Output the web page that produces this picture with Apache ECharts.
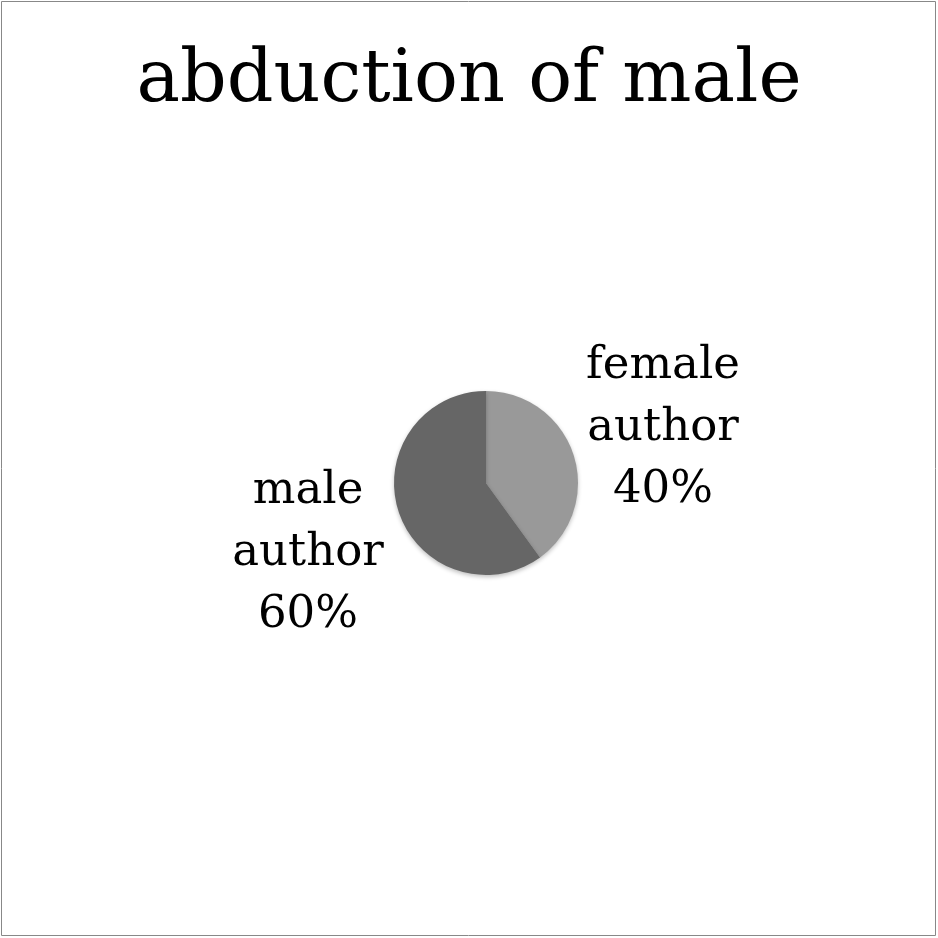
<!DOCTYPE html>
<html><head><meta charset="utf-8">
<script src="https://cdn.jsdelivr.net/npm/echarts@6/dist/echarts.min.js"></script>
<style>html,body{margin:0;padding:0;background:#fff}#c{width:938px;height:938px}</style>
</head><body><div id="c"></div>
<script>
var titleText = 'abduction of male';
var categories = ['female author', 'male author'];
var values = [40, 60];
var colors = ['#999999', '#666666'];
var labelPos = [[663, 428], [308, 553]];

var chart = echarts.init(document.getElementById('c'), null, {renderer: 'canvas'});
chart.setOption({
  animation: false,
  backgroundColor: '#ffffff',
  title: {
    text: titleText, left: 'center', top: 41,
    textStyle: {fontFamily: 'DejaVu Serif', fontSize: 73, fontWeight: 'normal', color: '#000'}
  },
  graphic: [{
    type: 'rect', shape: {x: 1.5, y: 1.5, width: 934, height: 934},
    style: {fill: 'none', stroke: '#888888', lineWidth: 1}, silent: true
  }],
  series: [{
    type: 'pie',
    center: [486, 483],
    radius: [0, 92],
    startAngle: 90,
    clockwise: true,
    data: categories.map(function (c, i) {
      return {name: c, value: values[i], itemStyle: {color: colors[i]}};
    }),
    itemStyle: {shadowBlur: 4, shadowOffsetY: 2, shadowColor: 'rgba(0,0,0,0.25)'},
    label: {
      show: true, position: 'outside',
      formatter: function (p) { return p.name.replace(' ', '\n') + '\n' + Math.round(p.percent) + '%'; },
      fontFamily: 'DejaVu Serif', fontSize: 45, lineHeight: 62, color: '#000', align: 'center'
    },
    labelLine: {show: false},
    labelLayout: function (p) {
      return {x: labelPos[p.dataIndex][0], y: labelPos[p.dataIndex][1], align: 'center', verticalAlign: 'middle'};
    },
    emphasis: {disabled: true}
  }]
});
</script></body></html>
